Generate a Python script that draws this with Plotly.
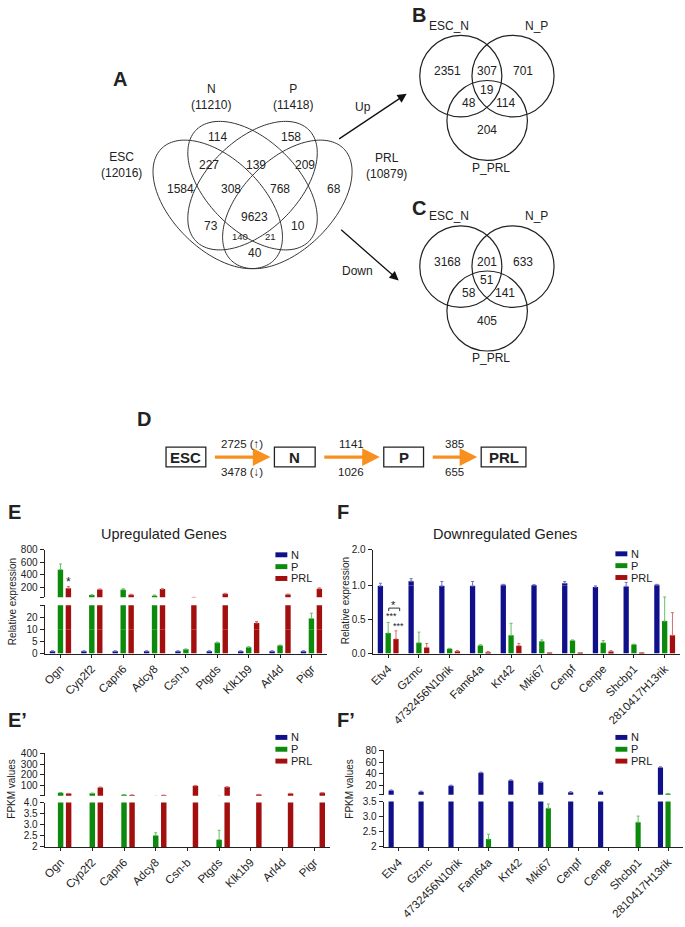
import numpy as np
import plotly.graph_objects as go

W, H = 685, 927
FONT = "Liberation Sans, Arial, Helvetica, sans-serif"

# ---- Venn diagram counts ----
venn_a_names = ["ESC", "N", "P", "PRL"]
venn_a_totals = [12016, 11210, 11418, 10879]
venn_a_counts = [114, 158, 227, 139, 209, 1584, 308, 768, 68, 73, 9623, 10, 140, 21, 40]
venn_pair_names = ["ESC_N", "N_P", "P_PRL"]
venn_up_counts = [2351, 307, 701, 19, 48, 114, 204]
venn_down_counts = [3168, 201, 633, 51, 58, 141, 405]

# ---- genes changed between consecutive stages ----
stages = ["ESC", "N", "P", "PRL"]
deg_up = [2725, 1141, 385]
deg_down = [3478, 1026, 655]

# ---- qPCR relative expression / FPKM ----
groups = ["N", "P", "PRL"]

up_genes = ["Ogn", "Cyp2f2", "Capn6", "Adcy8", "Csn-b", "Ptgds", "Klk1b9", "Arl4d", "Pigr"]
up_rel_n = [1.0, 1.0, 1.0, 1.0, 1.0, 1.0, 1.0, 1.0, 1.0]
up_rel_p = [485, 80, 165, 70, 1.8, 4.5, 2.6, 3.4, 19.5]
up_rel_prl = [190, 170, 85, 175, 40, 100, 15.8, 90, 180]
up_rel_n_err = [0.1, 0.1, 0.1, 0.1, 0.1, 0.1, 0.1, 0.1, 0.1]
up_rel_p_err = [90, 5, 15, 10, 0.1, 0.3, 0.3, 0.2, 4.5]
up_rel_prl_err = [25, 6, 8, 5, 3, 8, 1.2, 5, 15]

down_genes = ["Etv4", "Gzmc", "4732456N10rik", "Fam64a", "Krt42", "Mki67",
              "Cenpf", "Cenpe", "Shcbp1", "2810417H13rik"]
down_rel_n = [0.99, 1.12, 0.99, 0.99, 1.02, 1.01, 1.06, 0.975, 0.985, 1.02]
down_rel_p = [0.30, 0.157, 0.071, 0.119, 0.267, 0.18, 0.19, 0.157, 0.133, 0.476]
down_rel_prl = [0.214, 0.09, 0.033, 0.02, 0.114, 0.003, 0.003, 0.029, 0.005, 0.267]
down_rel_n_err = [0.07, 0.07, 0.12, 0.12, 0.01, 0.01, 0.05, 0.015, 0.1, 0.01]
down_rel_p_err = [0.157, 0.157, 0.005, 0.01, 0.176, 0.02, 0.01, 0.033, 0.005, 0.354]
down_rel_prl_err = [0.119, 0.058, 0.01, 0.01, 0.034, 0.0, 0.0, 0.014, 0.0, 0.333]

up_fpkm_n = [0.4, 0.3, 0.5, 0.2, 0.1, 0.3, 0.2, 0.4, 0.3]
up_fpkm_p = [36, 30, 18, 2.52, 0.2, 2.33, 0.3, 0.4, 0.5]
up_fpkm_prl = [28, 85, 14, 12, 100, 88, 20, 28, 35]
up_fpkm_n_err = [0, 0, 0, 0, 0, 0, 0, 0, 0]
up_fpkm_p_err = [2, 2, 1, 0.12, 0, 0.42, 0, 0, 0]
up_fpkm_prl_err = [2, 3, 1, 1, 3, 3, 1, 2, 2]

down_fpkm_n = [12, 10, 20, 42, 29, 26, 9, 10, 0.5, 51]
down_fpkm_p = [0.3, 0.2, 0.2, 2.26, 0.4, 3.28, 0.3, 0.2, 2.82, 6.5]
down_fpkm_prl = [0.1, 0.1, 0.1, 0.1, 0.1, 0.1, 0.1, 0.1, 0.1, 0.1]
down_fpkm_n_err = [1, 1, 1, 1, 1, 1, 1, 1, 0, 1]
down_fpkm_p_err = [0, 0, 0, 0.16, 0, 0.14, 0, 0, 0.2, 0.5]
down_fpkm_prl_err = [0, 0, 0, 0, 0, 0, 0, 0, 0, 0]

BAR_COLORS = ["#10108a", "#0b8a0b", "#a30f0f"]
ERR_COLORS = ["#7272c8", "#66c066", "#d47070"]
ORANGE = "#f7901e"
INK = "#222222"


def X(x):
    return x / W


def Y(y):
    return 1 - y / H


ann = []
shapes = []


def txt(x, y, s, size=12, anchor="center", angle=0, color=INK):
    ann.append(dict(x=X(x), y=Y(y), xref="paper", yref="paper", text=s,
                    showarrow=False, xanchor=anchor, yanchor="middle",
                    textangle=angle, font=dict(size=size, family=FONT, color=color)))


def arrow(x0, y0, x1, y1, color, width, size):
    ann.append(dict(x=X(x1), y=Y(y1), xref="paper", yref="paper", text="",
                    showarrow=True, ax=x0 - x1, ay=y0 - y1, axref="pixel", ayref="pixel",
                    arrowhead=2, arrowsize=size, arrowwidth=width, arrowcolor=color))


def line(x0, y0, x1, y1, color=INK, width=1):
    shapes.append(dict(type="line", xref="paper", yref="paper", x0=X(x0), y0=Y(y0),
                       x1=X(x1), y1=Y(y1), line=dict(color=color, width=width)))


def ellipse(cx, cy, a, b, ang):
    t = np.linspace(0, 2 * np.pi, 160)
    r = np.radians(ang)
    xs = cx + a * np.cos(t) * np.cos(r) - b * np.sin(t) * np.sin(r)
    ys = cy + a * np.cos(t) * np.sin(r) + b * np.sin(t) * np.cos(r)
    path = "M " + " L ".join(f"{X(u):.5f},{Y(v):.5f}" for u, v in zip(xs, ys)) + " Z"
    shapes.append(dict(type="path", path=path, xref="paper", yref="paper",
                       line=dict(color="#333", width=1)))


def circle(cx, cy, r):
    shapes.append(dict(type="circle", xref="paper", yref="paper",
                       x0=X(cx - r), x1=X(cx + r), y0=Y(cy + r), y1=Y(cy - r),
                       line=dict(color="#222", width=1.2)))


# ---------------- panel A: four-way Venn ----------------
txt(108, 74, "<b>A</b>", 20, "left")
ellipse(215, 201, 80, 45.6, 45)
ellipse(250, 182, 80, 45.6, 45)
ellipse(250, 182, 80, 45.6, -45)
ellipse(285, 201, 80, 45.6, -45)
set_pos = [(118, 161), (208, 92), (291, 92), (385, 162)]
for (x, y), name, tot in zip(set_pos, venn_a_names, venn_a_totals):
    txt(x, y, f"{name}<br>({tot})", 12)
a_pos = [(215, 133), (289, 133), (206, 161), (253, 161), (303, 161), (178, 185),
         (228, 185), (278, 185), (332, 185), (208, 223), (252, 214), (296, 223),
         (237, 234), (268, 234), (252, 250)]
for i, ((x, y), c) in enumerate(zip(a_pos, venn_a_counts)):
    txt(x, y, str(c), 9.5 if i in (12, 13) else 12)

arrow(336, 135, 405, 89, "#111", 1.3, 1.4)
txt(361, 102, "Up", 12)
arrow(338, 226, 397, 278, "#111", 1.3, 1.4)
txt(356, 268, "Down", 12)

# ---------------- panels B and C: three-way Venns ----------------
three_pos = [(-40, -5), (0, -5), (36, -5), (0, 14), (-18, 27), (18, 27), (0, 55)]
for lab, counts, dy in (("B", venn_up_counts, 71), ("C", venn_down_counts, 264)):
    txt(408, 9 if lab == "B" else 205, f"<b>{lab}</b>", 20, "left")
    cx = 486
    circle(cx - 26.5, dy, 41.3)
    circle(cx + 26, dy, 41.3)
    circle(cx, dy + 45, 40.5)
    txt(cx - 38, dy - 51, venn_pair_names[0], 12)
    txt(cx + 50, dy - 51, venn_pair_names[1], 12)
    txt(cx + 4, dy + 93, venn_pair_names[2], 12)
    for (ox, oy), c in zip(three_pos, counts):
        txt(cx + ox, dy + oy, str(c), 12)

# ---------------- panel D: stage flow ----------------
txt(132, 418, "<b>D</b>", 20, "left")
box_x = [(163, 203), (272, 313), (382, 422), (480, 525)]
for (x0, x1), s in zip(box_x, stages):
    shapes.append(dict(type="rect", xref="paper", yref="paper", x0=X(x0), x1=X(x1),
                       y0=Y(467), y1=Y(447), line=dict(color="#222", width=1.3)))
    txt((x0 + x1) / 2, 457, f"<b>{s}</b>", 15)
for i in range(3):
    xa, xb = box_x[i][1] + 8, box_x[i + 1][0] - 4
    arrow(xa, 457, xb, 457, ORANGE, 3.2, 1.1)
    mid = (xa + xb) / 2
    up_s = f"{deg_up[i]} (↑)" if i == 0 else str(deg_up[i])
    dn_s = f"{deg_down[i]} (↓)" if i == 0 else str(deg_down[i])
    txt(mid, 444, up_s, 11.5)
    txt(mid, 472, dn_s, 11.5)

# ---------------- bar chart panels ----------------
fig = go.Figure()


def add_bars(genes, vals, errs, xa, yas):
    for g, v, e, c, ec in zip(groups, vals, errs, BAR_COLORS, ERR_COLORS):
        for ya in yas:
            fig.add_trace(go.Bar(
                x=genes, y=v, name=g, xaxis=xa, yaxis=ya, showlegend=False,
                marker=dict(color=c, line=dict(width=0)),
                error_y=dict(type="data", array=e, arrayminus=[0] * len(e), symmetric=False,
                             color=ec, thickness=1, width=1.5),
                hoverinfo="skip"))


add_bars(up_genes, [up_rel_n, up_rel_p, up_rel_prl],
         [up_rel_n_err, up_rel_p_err, up_rel_prl_err], "x", ["y", "y2", "y3"])
add_bars(down_genes, [down_rel_n, down_rel_p, down_rel_prl],
         [down_rel_n_err, down_rel_p_err, down_rel_prl_err], "x2", ["y4", "y5"])
add_bars(up_genes, [up_fpkm_n, up_fpkm_p, up_fpkm_prl],
         [up_fpkm_n_err, up_fpkm_p_err, up_fpkm_prl_err], "x3", ["y6", "y7"])
add_bars(down_genes, [down_fpkm_n, down_fpkm_p, down_fpkm_prl],
         [down_fpkm_n_err, down_fpkm_p_err, down_fpkm_prl_err], "x4", ["y8", "y9"])

AX = dict(showline=True, linecolor=INK, linewidth=1.4, ticks="outside", ticklen=4,
          tickwidth=1.2, tickcolor=INK, showgrid=False, zeroline=False, fixedrange=True,
          tickfont=dict(size=10, color=INK, family=FONT))


def xax(x0, x1, n, anchor):
    return dict(AX, domain=[X(x0), X(x1)], range=[-0.5, n - 0.5], anchor=anchor,
                tickangle=-45, ticklen=3, tickfont=dict(size=11.5, color=INK, family=FONT))


def yax(top, bot, rng, vals, texts, anchor):
    return dict(AX, domain=[Y(bot), Y(top)], range=rng, anchor=anchor,
                tickmode="array", tickvals=vals, ticktext=texts)


layout_axes = {
    "xaxis": xax(41, 325, 9, "y"),
    "yaxis": yax(632, 656, [0, 10], [0, 5, 10], ["0", "5", "10"], "x"),
    "yaxis2": yax(607, 632, [10, 30.8], [20, 30.8], ["20", ""], "x"),
    "yaxis3": yax(551, 599, [45, 800], [45, 200, 400, 600, 800],
                  ["", "200", "400", "600", "800"], "x"),
    "xaxis2": xax(371, 680, 10, "y4"),
    "yaxis4": yax(587, 656, [0, 1.0], [0, 0.5, 1.0], ["0.0", "0.5", "1.0"], "x2"),
    "yaxis5": yax(551, 587, [1.0, 2.0], [2.0], ["2.0"], "x2"),
    "xaxis3": xax(41, 328, 9, "y6"),
    "yaxis6": yax(807, 852, [2, 4.0], [2, 2.5, 3.0, 3.5, 4.0],
                  ["2", "2.5", "3.0", "3.5", "4.0"], "x3"),
    "yaxis7": yax(757, 800, [9, 400], [9, 100, 200, 300, 400],
                  ["", "100", "200", "300", "400"], "x3"),
    "xaxis4": xax(382, 683, 10, "y8"),
    "yaxis8": yax(806, 852, [2, 3.5], [2, 2.5, 3.0, 3.5],
                  ["2", "2.5", "3.0", "3.5"], "x4"),
    "yaxis9": yax(754, 799, [5, 80], [5, 20, 40, 60, 80],
                  ["", "20", "40", "60", "80"], "x4"),
}

# panel labels, titles, axis titles
txt(2, 513, "<b>E</b>", 20, "left")
txt(333, 513, "<b>F</b>", 20, "left")
txt(2, 723, "<b>E’</b>", 20, "left")
txt(333, 723, "<b>F’</b>", 20, "left")
txt(161, 535, "Upregulated Genes", 14.5)
txt(504, 535, "Downregulated Genes", 14.5)
txt(8, 603, "Relative expression", 10, angle=-90)
txt(343, 602, "Relative expression", 10, angle=-90)
txt(8, 793, "FPKM values", 10, angle=-90)
txt(348, 793, "FPKM values", 10, angle=-90)

# legends
for lx, ly in ((273, 556), (615, 555), (273, 741), (615, 741)):
    for k, (g, c) in enumerate(zip(groups, BAR_COLORS)):
        yy = ly + 12 * k
        shapes.append(dict(type="rect", xref="paper", yref="paper", x0=X(lx), x1=X(lx + 12),
                           y0=Y(yy + 2.5), y1=Y(yy - 2.5), fillcolor=c, line=dict(width=0)))
        txt(lx + 14, yy, g, 11, "left")

# significance marks
txt(65, 584, "*", 12)
txt(392, 607, "*", 11)
line(387, 610, 398, 610, "#333", 1)
line(387, 610, 387, 613, "#333", 1)
line(398, 610, 398, 613, "#333", 1)
txt(390, 618, "***", 9)
txt(397, 628, "***", 9)

fig.update_layout(
    width=W, height=H, margin=dict(l=0, r=0, t=0, b=0),
    paper_bgcolor="white", plot_bgcolor="white",
    barmode="group", bargap=0.24, bargroupgap=0.32, showlegend=False,
    font=dict(family=FONT, color=INK),
    annotations=ann, shapes=shapes, **layout_axes)

# drop the browser's default body margin so the figure sits at the page origin
fig.write_html("out.html", config={"displayModeBar": False},
               post_script="document.body.style.margin='0';")
